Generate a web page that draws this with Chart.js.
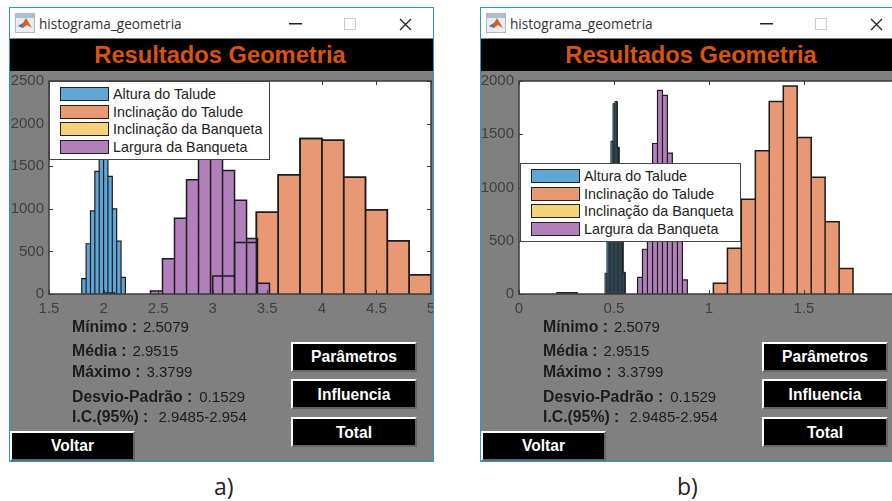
<!DOCTYPE html>
<html>
<head>
<meta charset="utf-8">
<title>histograma_geometria</title>
<script src="https://cdn.jsdelivr.net/npm/chart.js@4/dist/chart.umd.min.js"></script>
<style>
  html, body { margin: 0; padding: 0; width: 892px; height: 501px; overflow: hidden; background: #fff; }
  body { position: relative; font-family: "Liberation Sans", Arial, sans-serif; }
  .janela { position: absolute; top: 8px; width: 423px; height: 453px; background: #808080; outline: 1px solid #1f9fc2; overflow: hidden; }
  .barra { position: absolute; left: 0; top: 0; width: 100%; height: 30px; background: #fff; }
  .barra .nome { position: absolute; left: 29px; top: 6px; font: 13.6px "Open Sans", sans-serif; color: #333; }
  .barra svg { position: absolute; left: 5px; top: 5px; }
  .topo { position: absolute; left: 0; top: 31px; width: 420px; height: 32px; background: #000; color: #d9530f; font-weight: bold; font-size: 23.7px; line-height: 32px; text-align: center; box-shadow: 10px 0 0 #000; }
  canvas { position: absolute; left: 0; top: 64px; }
  .legenda { position: absolute; width: 219px; height: 77px; background: #fff; border: 1px solid #444; font-size: 14.3px; color: #222; }
  .legenda div { position: absolute; left: 63px; white-space: nowrap; line-height: 16px; }
  .legenda i { position: absolute; left: -53px; top: 1px; width: 47px; height: 12px; border: 1px solid #222; }
  .info { position: absolute; left: 62px; font-size: 15px; color: #1c1c1c; white-space: nowrap; line-height: 16px; }
  .info b { font-size: 15.8px; }
  .botao { position: absolute; background: #000; color: #fff; font-weight: bold; font-size: 15.6px; text-align: center; box-sizing: border-box; border: 2px solid; border-color: #fff #666 #666 #fff; }
  .rotulo { position: absolute; top: 470px; font: 23px "Open Sans", sans-serif; color: #222; }
</style>
</head>
<body>
<script>
// dados
const legendLabels = ['Altura do Talude', 'Inclinação do Talude', 'Inclinação da Banqueta', 'Largura da Banqueta'];
const legendColors = ['#5fa6d7', '#e89873', '#f5d27a', '#b180ba'];

// a)
const xTicksA = [1.5, 2, 2.5, 3, 3.5, 4, 4.5, 5];
const yTicksA = [0, 500, 1000, 1500, 2000, 2500];
const alturaEdgesA = [1.8, 1.84, 1.88, 1.92, 1.96, 2.0, 2.04, 2.08, 2.12, 2.16, 2.2];
const alturaCountsA = [180, 590, 975, 1440, 1750, 1790, 1380, 1000, 620, 195];
const taludeEdgesA = [3.0, 3.2, 3.4, 3.6, 3.8, 4.0, 4.2, 4.4, 4.6, 4.8, 5.0];
const taludeCountsA = [210, 605, 960, 1400, 1825, 1805, 1370, 990, 625, 225];
const banquetaEdgesA = [2.0, 2.1];
const banquetaCountsA = [12];
const larguraEdgesA = [2.43, 2.54, 2.65, 2.76, 2.87, 2.98, 3.09, 3.2, 3.31, 3.41, 3.52];
const larguraCountsA = [35, 415, 890, 1340, 1720, 1730, 1450, 1100, 650, 125];

// b)
const xTicksB = [0, 0.5, 1, 1.5, 2];
const yTicksB = [0, 500, 1000, 1500, 2000];
const alturaEdgesB = [0.453, 0.463, 0.474, 0.484, 0.495, 0.505, 0.516, 0.526, 0.537, 0.547, 0.558];
const alturaCountsB = [195, 590, 980, 1435, 1787, 1808, 1378, 1000, 620, 204];
const taludeEdgesB = [1.023, 1.097, 1.17, 1.244, 1.317, 1.391, 1.464, 1.538, 1.611, 1.685, 1.758];
const taludeCountsB = [100, 430, 890, 1345, 1808, 1953, 1470, 1096, 678, 239];
const banquetaEdgesB = [0.2, 0.305];
const banquetaCountsB = [12];
const larguraEdgesB = [0.624, 0.65, 0.676, 0.703, 0.729, 0.755, 0.781, 0.807, 0.834, 0.86, 0.886];
const larguraCountsB = [157, 420, 880, 1413, 1912, 1865, 1322, 1000, 600, 132];

const statLabels = ['Mínimo :', 'Média :', 'Máximo :', 'Desvio-Padrão :', 'I.C.(95%) :'];
const statValues = ['2.5079', '2.9515', '3.3799', '0.1529', '2.9485-2.954'];
const statGaps = [6, 6, 6, 7, 10];
const botoes = ['Parâmetros', 'Influencia', 'Total'];

// contorno de um histograma: volta a zero entre as barras para desenhar as divisorias
function contorno(edges, counts) {
  const pts = [];
  counts.forEach((c, i) => {
    pts.push({ x: edges[i], y: 0 }, { x: edges[i], y: c }, { x: edges[i + 1], y: c }, { x: edges[i + 1], y: 0 });
  });
  return pts;
}

function histo(edges, counts, color, order, fill, lw) {
  return {
    data: contorno(edges, counts),
    showLine: true,
    pointRadius: 0,
    borderColor: '#1c1c1c',
    borderWidth: lw || 1.5,
    backgroundColor: color,
    fill: fill ? 'origin' : false,
    order: order,
  };
}

// fundo branco, caixa e marcas para dentro como no MATLAB
const caixaPlugin = {
  id: 'caixa',
  beforeDraw(chart) {
    const a = chart.chartArea;
    chart.ctx.fillStyle = '#fff';
    chart.ctx.fillRect(a.left, a.top, a.width, a.height);
  },
  afterDraw(chart) {
    const a = chart.chartArea, ctx = chart.ctx;
    ctx.save();
    ctx.strokeStyle = '#3a3a3a';
    ctx.lineWidth = 1;
    ctx.beginPath();
    chart.scales.x.ticks.forEach(t => {
      const p = Math.round(chart.scales.x.getPixelForValue(t.value)) + 0.5;
      ctx.moveTo(p, a.bottom); ctx.lineTo(p, a.bottom - 4);
      ctx.moveTo(p, a.top); ctx.lineTo(p, a.top + 4);
    });
    chart.scales.y.ticks.forEach(t => {
      const p = Math.round(chart.scales.y.getPixelForValue(t.value)) + 0.5;
      ctx.moveTo(a.left, p); ctx.lineTo(a.left + 4, p);
      ctx.moveTo(a.right, p); ctx.lineTo(a.right - 4, p);
    });
    ctx.stroke();
    ctx.lineWidth = 1.5;
    ctx.strokeRect(a.left, a.top, a.width, a.height);
    ctx.restore();
  },
};

function criaJanela(left, cfg) {
  const w = document.createElement('div');
  w.className = 'janela';
  w.style.left = left + 'px';
  let html = '<div class="barra">' +
    '<svg width="20" height="20"><rect x="0.5" y="0.5" width="19" height="19" fill="#e8edf2" stroke="#b5b5b5"/><rect x="1" y="1" width="18" height="4" fill="#a9bfd6"/><path d="M3 13 L8 10 L11 5 L14 10 L17 15 L12 12 L8 15 Z" fill="#d9601a"/><path d="M3 13 L8 10 L8 15 Z" fill="#3f7fb5"/></svg>' +
    '<span class="nome">histograma_geometria</span>' +
    '<svg style="left:279px;top:15px" width="13" height="2"><rect width="13" height="1.5" fill="#222"/></svg>' +
    '<svg style="left:334px;top:10px" width="12" height="12"><rect x="0.5" y="0.5" width="11" height="11" fill="none" stroke="#ccc"/></svg>' +
    '<svg style="left:389px;top:10px" width="13" height="13"><path d="M1 1 L12 12 M12 1 L1 12" stroke="#222" stroke-width="1.3"/></svg>' +
    '</div><div class="topo">Resultados Geometria</div>';
  html += '<canvas></canvas>';
  html += '<div class="legenda" style="left:' + cfg.legX + 'px;top:' + cfg.legY + 'px">';
  legendLabels.forEach((l, i) => {
    html += '<div style="top:' + [4, 22, 39, 57][i] + 'px"><i style="background:' + legendColors[i] + '"></i>' + l + '</div>';
  });
  html += '</div>';
  [311, 335, 356, 381, 401].forEach((y, i) => {
    html += '<div class="info" style="top:' + y + 'px"><b>' + statLabels[i] + '</b><span style="margin-left:' + statGaps[i] + 'px">' + statValues[i] + '</span></div>';
  });
  [334, 371, 409].forEach((y, i) => {
    html += '<div class="botao" style="left:281px;top:' + y + 'px;width:126px;height:30px;line-height:' + (i ? 28 : 26) + 'px">' + botoes[i] + '</div>';
  });
  html += '<div class="botao" style="left:0;top:423px;width:125px;height:30px;line-height:25px">Voltar</div>';
  w.innerHTML = html;
  document.body.appendChild(w);

  const canvas = w.querySelector('canvas');
  canvas.width = cfg.yWidth + cfg.plotWidth + 9;
  canvas.height = 248;
  new Chart(canvas, {
    type: 'scatter',
    data: { datasets: cfg.datasets },
    plugins: [caixaPlugin],
    options: {
      responsive: false,
      animation: false,
      layout: { padding: { top: 9, right: 9, left: 0, bottom: 0 } },
      plugins: { legend: { display: false }, tooltip: { enabled: false } },
      scales: {
        x: {
          type: 'linear',
          min: cfg.xTicks[0],
          max: cfg.xTicks[cfg.xTicks.length - 1],
          grid: { display: false, drawTicks: false },
          border: { display: false },
          afterBuildTicks: s => { s.ticks = cfg.xTicks.map(v => ({ value: v })); },
          afterFit: s => { s.height = 26; s.paddingLeft = 0; s.paddingRight = 0; },
          ticks: { color: '#3f3f3f', font: { family: 'Liberation Sans', size: 15 }, padding: 6, maxRotation: 0, autoSkip: false, callback: v => String(v) },
        },
        y: {
          min: cfg.yTicks[0],
          max: cfg.yTicks[cfg.yTicks.length - 1],
          grid: { display: false, drawTicks: false },
          border: { display: false },
          afterBuildTicks: s => { s.ticks = cfg.yTicks.map(v => ({ value: v })); },
          afterFit: s => { s.width = cfg.yWidth; s.paddingTop = 0; s.paddingBottom = 0; },
          ticks: { color: '#3f3f3f', font: { family: 'Liberation Sans', size: 15 }, padding: 5, autoSkip: false, callback: v => String(v) },
        },
      },
    },
  });
}

criaJanela(10, {
  legX: 39, legY: 73, yWidth: 39, plotWidth: 382, xTicks: xTicksA, yTicks: yTicksA,
  datasets: [
    histo(taludeEdgesA, taludeCountsA, legendColors[1], 0, false), // divisorias por cima do roxo
    histo(larguraEdgesA, larguraCountsA, legendColors[3], 1, true),
    histo(banquetaEdgesA, banquetaCountsA, legendColors[2], 2, true),
    histo(taludeEdgesA, taludeCountsA, legendColors[1], 3, true),
    histo(alturaEdgesA, alturaCountsA, legendColors[0], 4, true, 1.2),
  ],
});
criaJanela(481, {
  legX: 39, legY: 155, yWidth: 38, plotWidth: 380, xTicks: xTicksB, yTicks: yTicksB,
  datasets: [
    histo(larguraEdgesB, larguraCountsB, legendColors[3], 1, true, 1.2),
    histo(banquetaEdgesB, banquetaCountsB, legendColors[2], 2, true),
    histo(taludeEdgesB, taludeCountsB, legendColors[1], 3, true),
    histo(alturaEdgesB, alturaCountsB, legendColors[0], 4, true, 1),
  ],
});

['a)', 'b)'].forEach((t, i) => {
  const s = document.createElement('span');
  s.className = 'rotulo';
  s.style.left = [214, 677][i] + 'px';
  s.textContent = t;
  document.body.appendChild(s);
});
</script>
</body>
</html>
